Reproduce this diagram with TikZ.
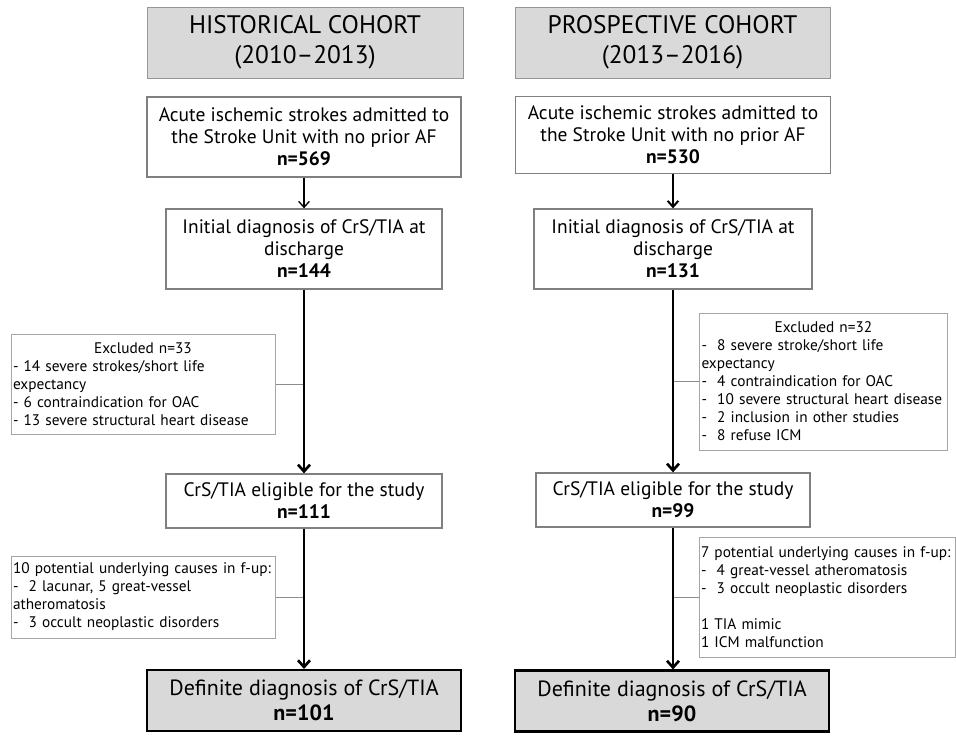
\documentclass[tikz,border=0pt]{standalone}
\usepackage{fontspec}
\setmainfont{PT Sans}
\usetikzlibrary{arrows.meta}

\tikzset{every picture/.style={line width=0.75pt}}

\begin{document}
\begin{tikzpicture}[x=0.75pt,y=0.75pt,yscale=-1,xscale=1,
    headbox/.style={draw={rgb, 255:red, 150; green, 150; blue, 150 },fill={rgb, 255:red, 217; green, 217; blue, 217 },minimum width=237pt,minimum height=53.25pt,inner sep=0pt,align=center,font=\fontsize{19}{22.5}\selectfont},
    mainbox/.style={draw={rgb, 255:red, 128; green, 128; blue, 128 },line width=1pt,fill=white,inner sep=0pt,align=center,font=\fontsize{14.6}{16.5}\selectfont},
    sidebox/.style={draw={rgb, 255:red, 166; green, 166; blue, 166 },fill=white,inner xsep=1.5pt,inner ysep=0pt,align=left,font=\fontsize{11.5}{13.5}\selectfont},
    endbox/.style={draw=black,line width=1.6pt,fill={rgb, 255:red, 217; green, 217; blue, 217 },minimum width=235.5pt,minimum height=45.75pt,inner sep=0pt,align=center,font=\fontsize{16.5}{19}\selectfont},
    thinarrow/.style={-{Straight Barb[length=4.5pt,width=8pt]},line width=1pt},
    thickarrow/.style={-{Straight Barb[length=5pt,width=9pt]},line width=2pt},
    sideline/.style={draw={rgb, 255:red, 140; green, 140; blue, 140 },line width=0.75pt}
  ]
    \useasboundingbox (0,0) rectangle (956,740);

    % Header Nodes
    \node [headbox] (hdrL) at (305,42.5) {HISTORICAL COHORT\\(2010--2013)};
    \node [headbox,minimum width=236.25pt] (hdrR) at (672.5,42.5) {PROSPECTIVE COHORT\\(2013--2016)};

    % Historical cohort
    \node [mainbox,minimum width=235.5pt,minimum height=60pt] (startL) at (304,137) {Acute ischemic strokes admitted to\\the Stroke Unit with no prior AF\\\textbf{n=569}};
    \node [mainbox,minimum width=207pt,minimum height=60pt] (diagL) at (304,249) {Initial diagnosis of CrS/TIA at\\discharge\\\textbf{n=144}};
    \node [sidebox,text width=195pt,minimum height=75pt] (exclL) at (143,384) {\makebox[\linewidth]{Excluded n=33}\\- 14 severe strokes/short life\\expectancy\\- 6 contraindication for OAC\\- 13 severe structural heart disease};
    \node [mainbox,minimum width=207pt,minimum height=40.5pt] (eligL) at (304,501) {CrS/TIA eligible for the study\\\textbf{n=111}};
    \node [sidebox,text width=195pt,minimum height=61.5pt] (causL) at (143,597) {\mbox{10 potential underlying causes in f-up:}\\-\ \ 2 lacunar, 5 great-vessel\\atheromatosis\\-\ \ 3 occult neoplastic disorders};
    \node [endbox] (defL) at (304,700.5) {Definite diagnosis of CrS/TIA\\\textbf{n=101}};

    % Prospective cohort
    \node [mainbox,minimum width=236.25pt,minimum height=58pt] (startR) at (673,135) {Acute ischemic strokes admitted to\\the Stroke Unit with no prior AF\\\textbf{n=530}};
    \node [mainbox,minimum width=208.5pt,minimum height=60pt] (diagR) at (673,249) {Initial diagnosis of CrS/TIA at\\discharge\\\textbf{n=131}};
    \node [sidebox,text width=183pt,minimum height=102.75pt] (exclR) at (823.5,381.5) {\makebox[\linewidth]{Excluded n=32}\\-\ \ 8 severe stroke/short life\\expectancy\\-\ \ 4 contraindication for OAC\\-\ \ 10 severe structural heart disease\\-\ \ 2 inclusion in other studies\\-\ \ 8 refuse ICM};
    \node [mainbox,minimum width=205.5pt,minimum height=40.5pt] (eligR) at (673,500) {CrS/TIA eligible for the study\\\textbf{n=99}};
    \node [sidebox,text width=189pt,minimum height=90pt] (causR) at (827,597) {\mbox{7 potential underlying causes in f-up:}\\-\ \ 4 great-vessel atheromatosis\\-\ \ 3 occult neoplastic disorders\\[13.5pt]1 TIA mimic\\1 ICM malfunction};
    \node [endbox] (defR) at (672,701) {Definite diagnosis of CrS/TIA\\\textbf{n=90}};

    %Straight Lines
    \draw [sideline] (exclL.east) -- (exclL.east -| diagL.south);
    \draw [sideline] (causL.east) -- (causL.east -| eligL.south);
    \draw [sideline] (exclR.west) -- (exclR.west -| diagR.south);
    \draw [sideline] (causR.west) -- (causR.west -| eligR.south);

    %Arrows
    \draw [thinarrow] (startL.south) -- (startL.south |- diagL.north);
    \draw [thickarrow] (diagL.south) -- (diagL.south |- eligL.north);
    \draw [thickarrow] (eligL.south) -- (eligL.south |- defL.north);
    \draw [thinarrow,line width=1.5pt] (startR.south) -- (startR.south |- diagR.north);
    \draw [thickarrow] (diagR.south) -- (diagR.south |- eligR.north);
    \draw [thickarrow] (eligR.south) -- (eligR.south |- defR.north);
\end{tikzpicture}
\end{document}
